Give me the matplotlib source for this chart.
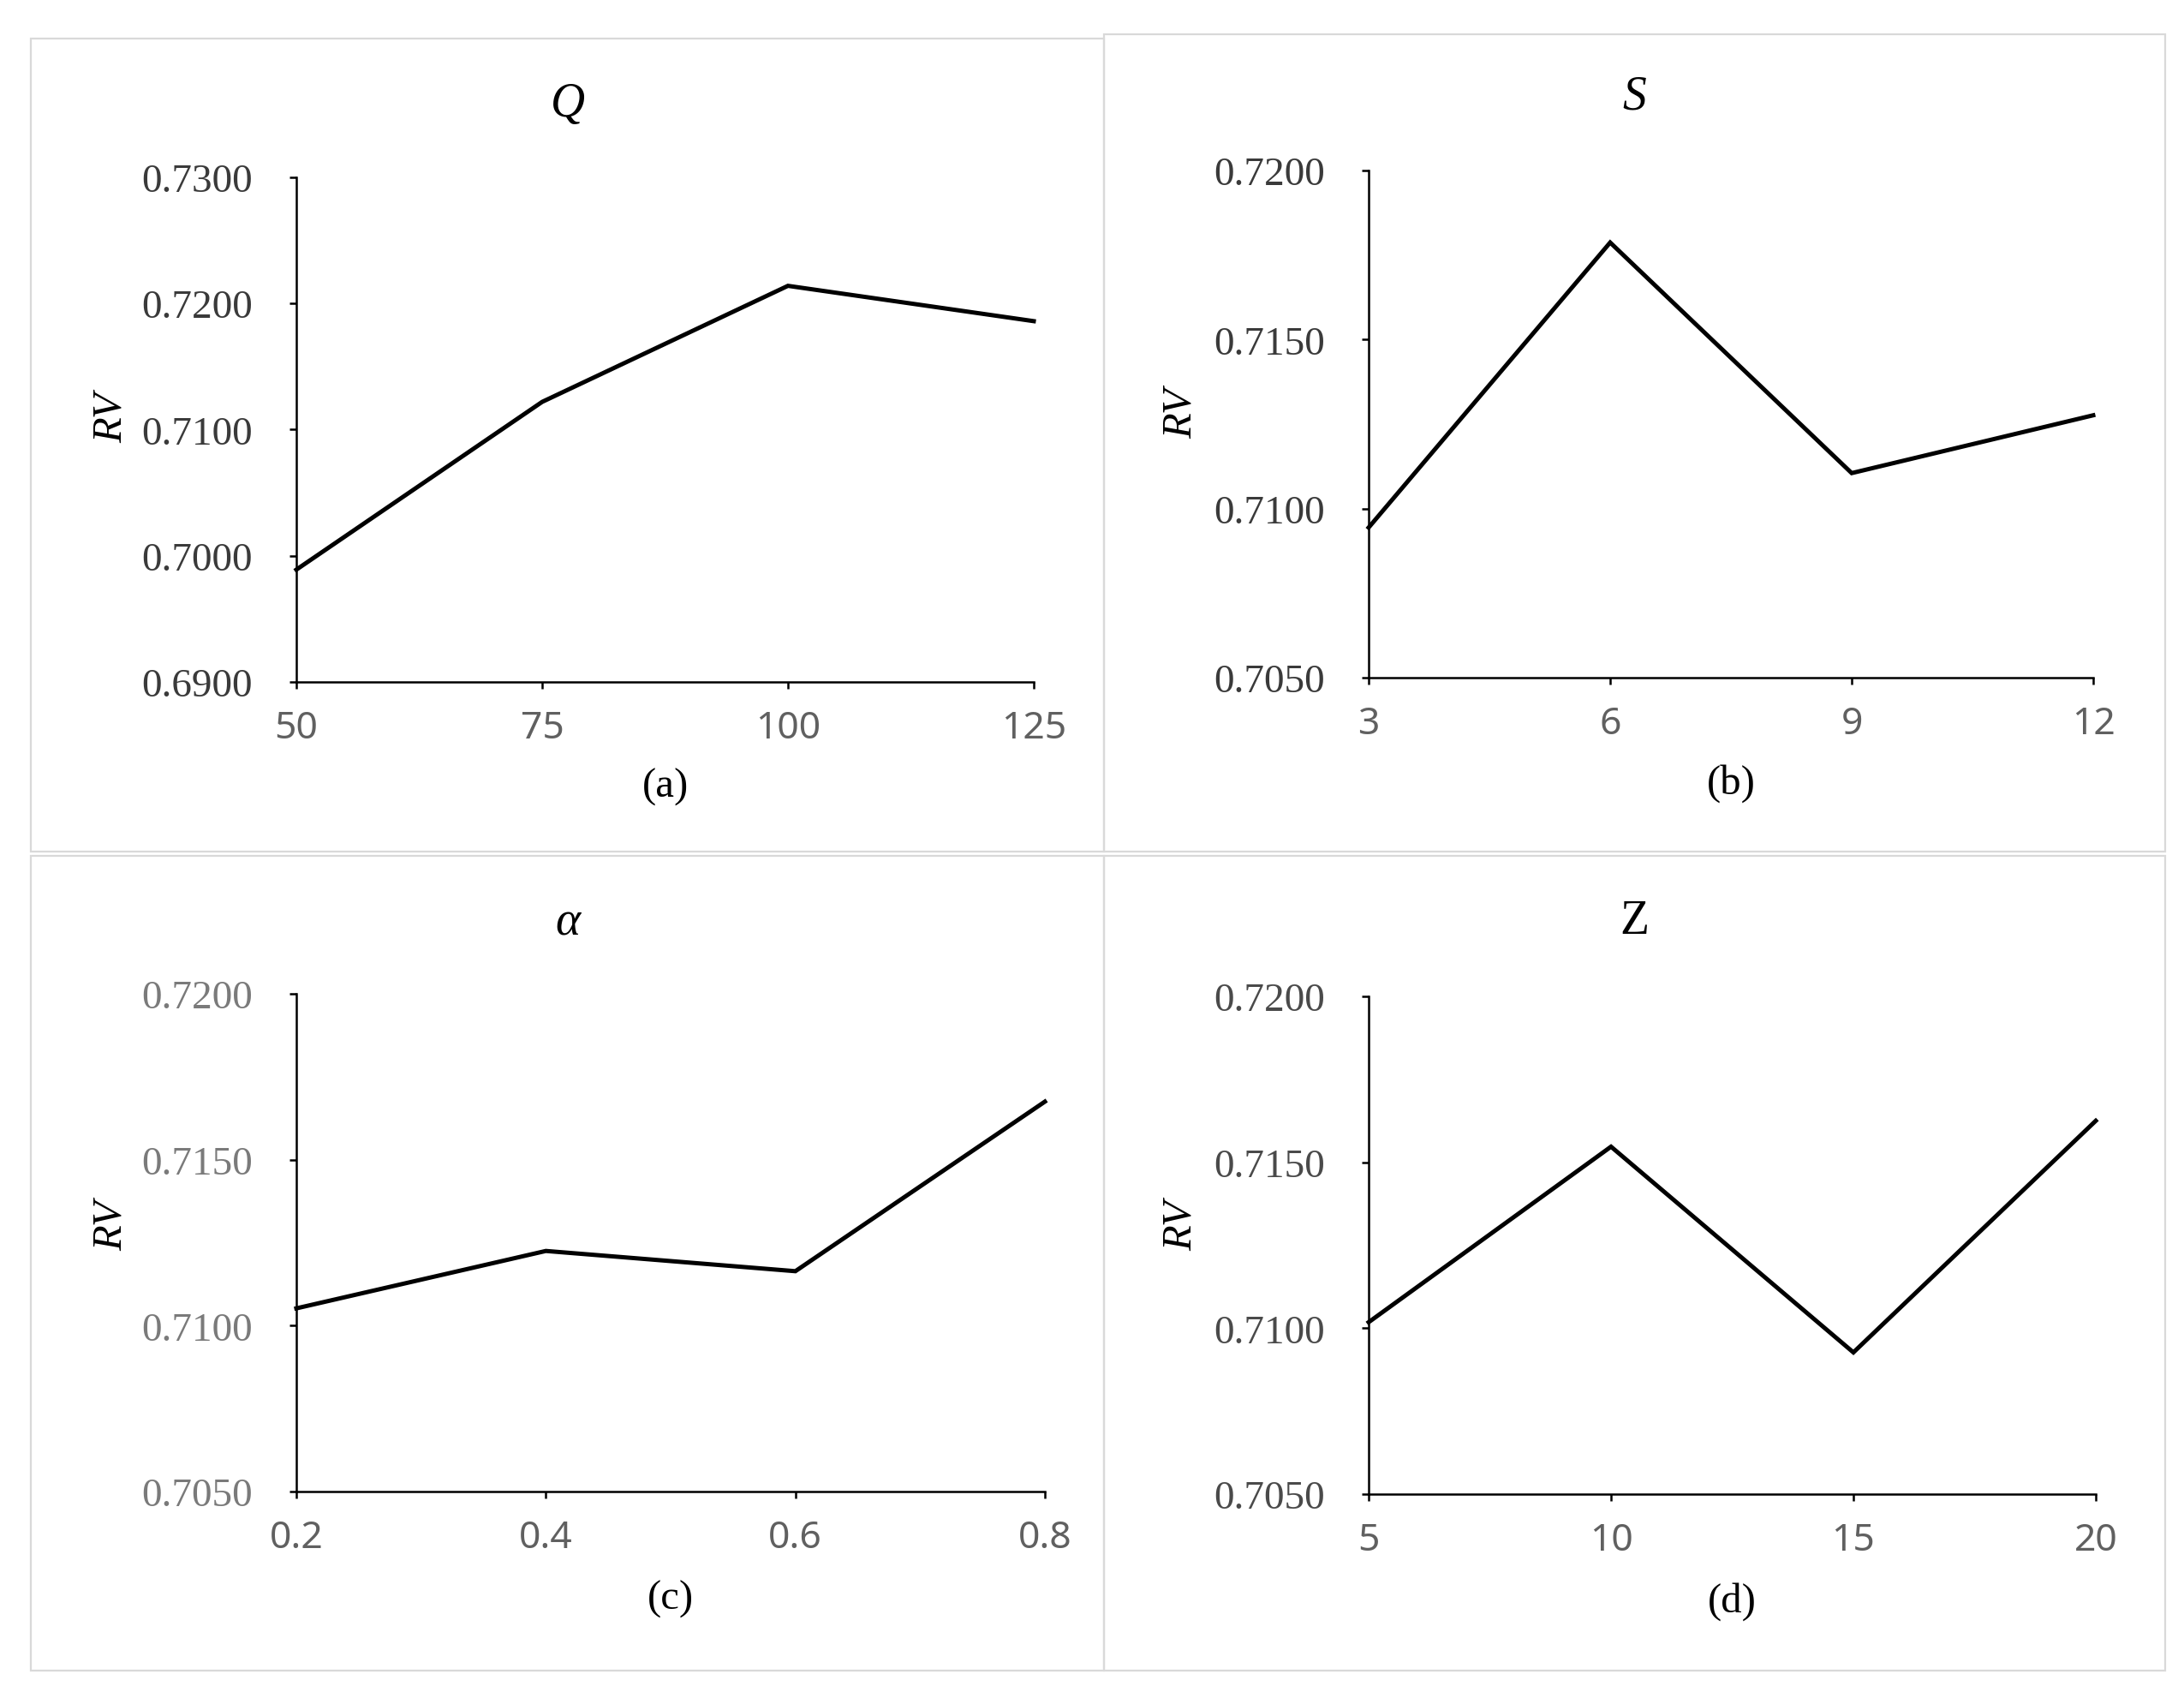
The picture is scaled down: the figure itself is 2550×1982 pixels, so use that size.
import matplotlib
matplotlib.use("Agg")
import matplotlib.pyplot as plt
from matplotlib.patches import Rectangle

# ---- data ----
q_x = [50, 75, 100, 125]
q_rv = [0.6989, 0.7122, 0.7214, 0.7186]
s_x = [3, 6, 9, 12]
s_rv = [0.70944, 0.71787, 0.71105, 0.71276]
alpha_x = [0.2, 0.4, 0.6, 0.8]
alpha_rv = [0.71052, 0.71225, 0.71164, 0.71675]
z_x = [5, 10, 15, 20]
z_rv = [0.71018, 0.71547, 0.70927, 0.71625]

q_yticks = [0.69, 0.70, 0.71, 0.72, 0.73]
other_yticks = [0.705, 0.710, 0.715, 0.720]
alpha_xlabels = ["0.2", "0.4", "0.6", "0.8"]

titles = ["Q", "S", "α", "Z"]
sublabels = ["(a)", "(b)", "(c)", "(d)"]

W, H = 2550, 1983
fig = plt.figure(figsize=(W / 100, H / 100), dpi=100)
fig.patch.set_facecolor("white")

# panel frames (figure pixel coords: x0, y0top, x1, y1bottom)
frames = [(36, 46, 1289, 995), (1289, 41, 2528, 995),
          (36, 1000, 1289, 1951), (1289, 1000, 2528, 1951)]
for (x0, y0, x1, y1) in frames:
    fig.patches.append(Rectangle((x0 / W, 1 - y1 / H), (x1 - x0) / W, (y1 - y0) / H,
                                 transform=fig.transFigure, fill=False,
                                 edgecolor="#d9d9d9", linewidth=1.6))

# axes rectangles in pixels: left, top, right, bottom
axes_px = [(346, 208, 1207, 797), (1598, 200, 2444, 792),
           (346, 1161, 1220, 1742), (1598, 1164, 2447, 1745)]

datasets = [(q_x, q_rv, q_yticks, None),
            (s_x, s_rv, other_yticks, None),
            (alpha_x, alpha_rv, other_yticks, alpha_xlabels),
            (z_x, z_rv, other_yticks, None)]

ytick_colors = ["#3a3a3a", "#3a3a3a", "#7a7a7a", "#4a4a4a"]
title_y = [122, 114, 1078, 1076]
sub_y = [919, 915, 1867, 1870]
rv_pos = [(130, 488), (1379, 483), (130, 1431), (1379, 1431)]

for i, ((l, t, r, b), (xs, ys, yt, xl)) in enumerate(zip(axes_px, datasets)):
    ax = fig.add_axes([l / W, 1 - b / H, (r - l) / W, (b - t) / H])
    ax.plot(xs, ys, color="black", linewidth=3.6, solid_joinstyle="miter")
    ax.set_xlim(xs[0], xs[-1])
    ax.set_ylim(yt[0], yt[-1])
    ax.set_xticks(xs)
    if xl is not None:
        ax.set_xticklabels(xl)
    else:
        ax.set_xticklabels([str(v) for v in xs])
    ax.set_yticks(yt)
    ax.set_yticklabels([f"{v:.4f}" for v in yt])
    for sp in ["top", "right"]:
        ax.spines[sp].set_visible(False)
    for sp in ["left", "bottom"]:
        ax.spines[sp].set_linewidth(1.8)
        ax.spines[sp].set_color("black")
    ax.tick_params(axis="both", direction="out", length=6, width=1.8, color="black")
    ax.tick_params(axis="y", pad=31, labelsize=34, labelcolor=ytick_colors[i])
    ax.tick_params(axis="x", pad=17, labelsize=32, labelcolor="#606060")
    for lab in ax.get_yticklabels():
        lab.set_fontfamily("Liberation Serif")
    for lab in ax.get_xticklabels():
        lab.set_fontfamily("Noto Sans")
        lab.set_fontweight("light")
    ax.set_facecolor("none")
    for ln in ax.lines:
        ln.set_clip_on(False)

    fx0, _, fx1, _ = frames[i]
    fig.text(((fx0 + fx1) / 2) / W, 1 - title_y[i] / H, titles[i],
             ha="center", va="center", fontsize=40,
             family="Liberation Serif",
             style="normal" if titles[i] == "Z" else "italic")
    fig.text(((l + r) / 2) / W, 1 - sub_y[i] / H, sublabels[i],
             ha="center", va="center", fontsize=35, family="Liberation Serif")
    fig.text(rv_pos[i][0] / W, 1 - rv_pos[i][1] / H, "RV", rotation=90,
             ha="center", va="center", fontsize=35, family="Liberation Serif",
             style="italic")

fig.savefig("out.png", dpi=100, facecolor="white")
